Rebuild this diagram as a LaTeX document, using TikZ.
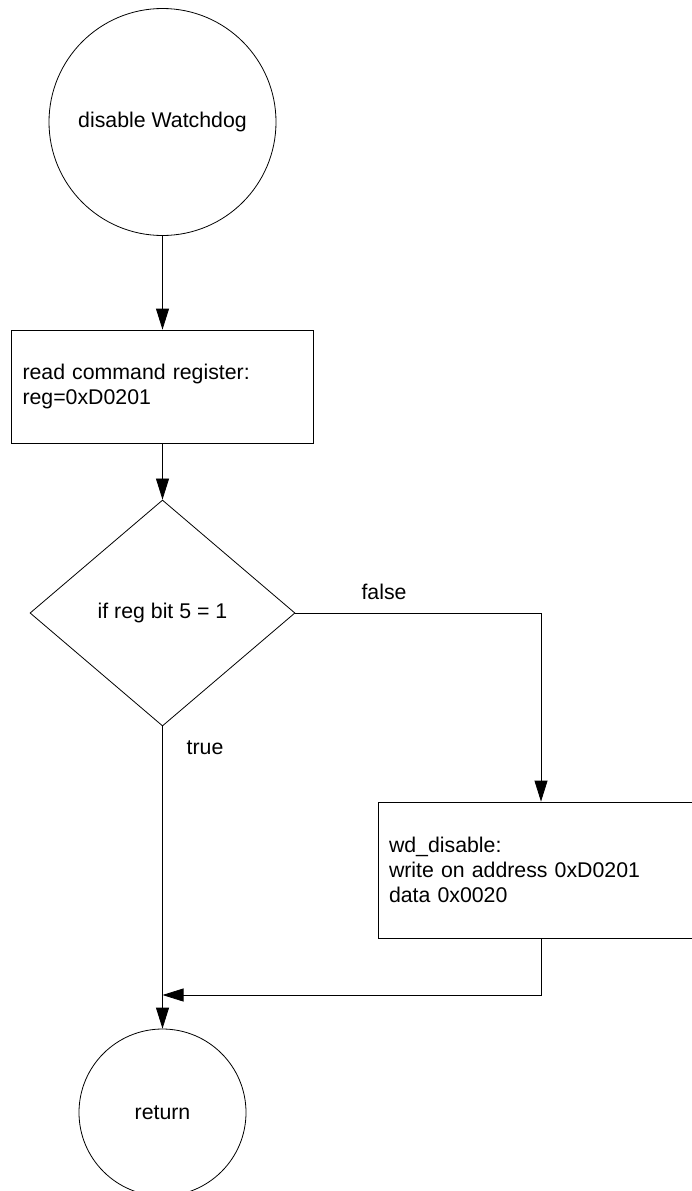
\documentclass[tikz,border=0pt]{standalone}
\usepackage{fontspec}
\setmainfont{Liberation Sans}
\usetikzlibrary{shapes.geometric,arrows.meta}
\begin{document}
\begin{tikzpicture}[x=1pt,y=-1pt,
  every node/.style={font=\fontsize{21.3}{24.8}\selectfont},
  lw/.style={line width=0.8pt},
  term/.style={circle,draw,lw,inner sep=0pt},
  proc/.style={rectangle,draw,lw,align=left,inner sep=11pt},
  dec/.style={diamond,draw,lw,inner sep=0pt,minimum width=265pt,minimum height=226pt},
  arr/.style={lw,-{Triangle[length=21pt,width=13pt]}}]
\useasboundingbox (0,0) rectangle (692,1191);
\clip (0,0) rectangle (692,1191);
\node[term,minimum size=227pt] (start) at (162.5,122) {disable Watchdog};
\node[proc,minimum width=302pt,minimum height=113pt,text width=280pt] (read) at (162.5,386.5) {read command register:\\reg=0xD0201};
\node[dec] (cond) at (162.5,613) {if reg bit 5 = 1};
\node[proc,minimum width=326pt,minimum height=136pt,text width=304pt] (wd) at (541,870) {wd\_disable:\\write on address 0xD0201\\data 0x0020};
\node[term,minimum size=167pt] (ret) at (162.5,1112.5) {return};
\node (f) at (384,592) {false};
\node (t) at (205,748) {true};
\coordinate (m) at (162.5,995);
\draw[arr] (start) -- (read);
\draw[arr] (read) -- (cond);
\draw[arr] (cond.east) -| (wd.north);
\draw[arr] (cond.south) -- (ret.north);
\draw[arr] (wd.south) |- (m);
\end{tikzpicture}
\end{document}
